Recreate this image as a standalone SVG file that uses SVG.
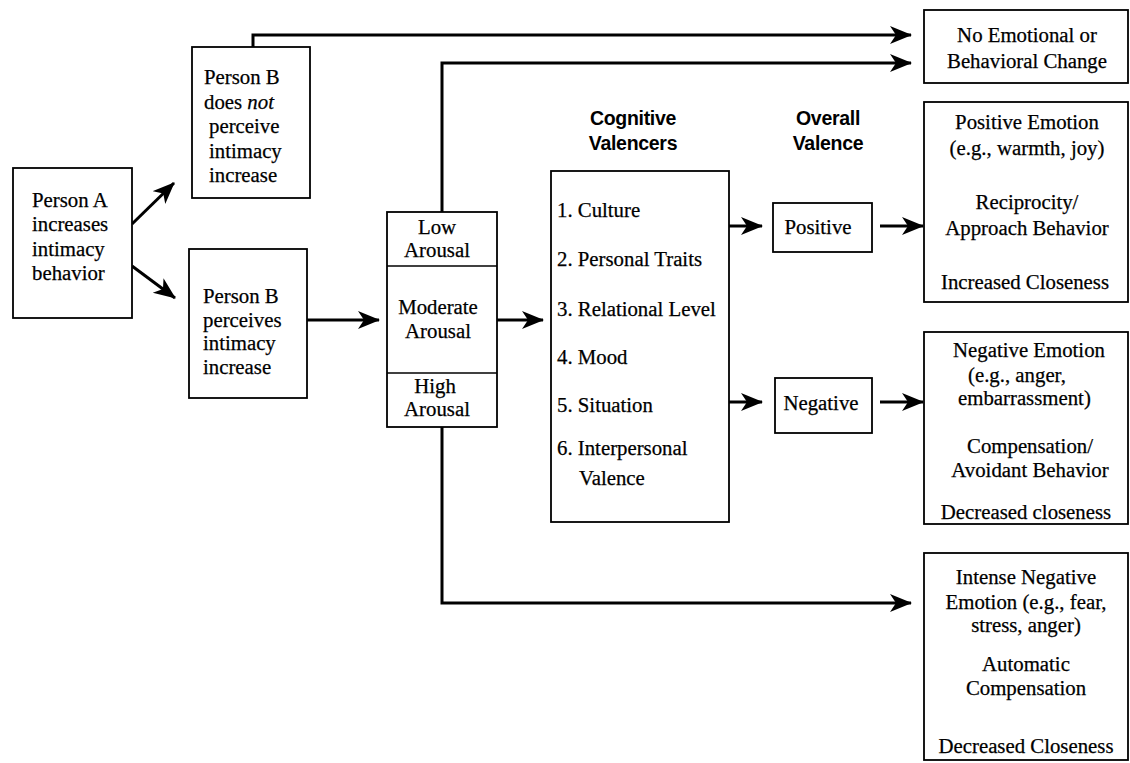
<svg xmlns="http://www.w3.org/2000/svg" width="1130" height="763" viewBox="0 0 1130 763">
  <style>
    .box { fill: #fff; stroke: #000; stroke-width: 1.8; }
    .div { stroke: #000; stroke-width: 1.5; }
    .t { font-family: "Liberation Serif", "Times New Roman", serif; font-size: 20.8px; fill: #000; stroke: #000; stroke-width: 0.25; }
    .c { text-anchor: middle; }
    .h { font-family: "Liberation Sans", Arial, sans-serif; font-size: 19.5px; font-weight: bold; fill: #000; text-anchor: middle; letter-spacing: -0.3px; }
    .wire { fill: none; stroke: #000; stroke-width: 3; stroke-linejoin: miter; }
  </style>
  <defs>
    <marker id="ah" markerUnits="userSpaceOnUse" markerWidth="24" markerHeight="20" refX="21" refY="9" orient="auto">
      <path d="M0,0 L22,9 L0,18 L6,9 z" fill="#000"/>
    </marker>
  </defs>
  <rect width="1130" height="763" fill="#fff"/>

  <!-- connectors -->
  <g id="connectors">
    <line class="wire" x1="132" y1="224" x2="174" y2="183" marker-end="url(#ah)"/>
    <line class="wire" x1="132" y1="266" x2="175" y2="298" marker-end="url(#ah)"/>
    <polyline class="wire" points="253,47 253,35 911,35" marker-end="url(#ah)"/>
    <polyline class="wire" points="442,212 442,63 911,63" marker-end="url(#ah)"/>
    <line class="wire" x1="307" y1="320" x2="379" y2="320" marker-end="url(#ah)"/>
    <line class="wire" x1="497" y1="320" x2="543" y2="320" marker-end="url(#ah)"/>
    <polyline class="wire" points="442,427 442,603 911,603" marker-end="url(#ah)"/>
    <line class="wire" x1="729" y1="226" x2="762" y2="226" marker-end="url(#ah)"/>
    <line class="wire" x1="729" y1="402" x2="762" y2="402" marker-end="url(#ah)"/>
    <line class="wire" x1="880" y1="226" x2="923" y2="226" marker-end="url(#ah)"/>
    <line class="wire" x1="880" y1="402" x2="923" y2="402" marker-end="url(#ah)"/>
  </g>

  <!-- Person A -->
  <g id="person-a">
    <rect class="box" x="13" y="168" width="119" height="150"/>
    <text class="t" x="32" y="207">Person A</text>
    <text class="t" x="32" y="231">increases</text>
    <text class="t" x="32" y="256">intimacy</text>
    <text class="t" x="32" y="280">behavior</text>
  </g>

  <!-- Person B does not perceive -->
  <g id="person-b-not">
    <rect class="box" x="192" y="47" width="118" height="151"/>
    <text class="t" x="204" y="84">Person B</text>
    <text class="t" x="204" y="109">does <tspan font-style="italic">not</tspan></text>
    <text class="t" x="209" y="133">perceive</text>
    <text class="t" x="209" y="158">intimacy</text>
    <text class="t" x="209" y="182">increase</text>
  </g>

  <!-- Person B perceives -->
  <g id="person-b-perceives">
    <rect class="box" x="189" y="249" width="118" height="149"/>
    <text class="t" x="203" y="303">Person B</text>
    <text class="t" x="203" y="327">perceives</text>
    <text class="t" x="203" y="350">intimacy</text>
    <text class="t" x="203" y="374">increase</text>
  </g>

  <!-- Arousal levels -->
  <g id="arousal">
    <rect class="box" x="387" y="212" width="110" height="215"/>
    <line class="div" x1="387" y1="266" x2="497" y2="266"/>
    <line class="div" x1="387" y1="373" x2="497" y2="373"/>
    <text class="t c" x="437" y="234">Low</text>
    <text class="t c" x="437" y="257">Arousal</text>
    <text class="t c" x="438" y="314">Moderate</text>
    <text class="t c" x="438" y="338">Arousal</text>
    <text class="t c" x="435" y="393">High</text>
    <text class="t c" x="437" y="416">Arousal</text>
  </g>

  <!-- Cognitive valencers -->
  <g id="cognitive-valencers">
    <text class="h" x="633" y="125">Cognitive</text>
    <text class="h" x="633" y="150">Valencers</text>
    <rect class="box" x="551" y="171" width="178" height="351"/>
    <text class="t" x="557" y="217">1. Culture</text>
    <text class="t" x="557" y="266">2. Personal Traits</text>
    <text class="t" x="557" y="316">3. Relational Level</text>
    <text class="t" x="557" y="364">4. Mood</text>
    <text class="t" x="557" y="412">5. Situation</text>
    <text class="t" x="557" y="455">6. Interpersonal</text>
    <text class="t" x="579" y="485">Valence</text>
  </g>

  <!-- Overall valence -->
  <g id="overall-valence">
    <text class="h" x="828" y="125">Overall</text>
    <text class="h" x="828" y="150">Valence</text>
  </g>
  <g id="positive">
    <rect class="box" x="773" y="203" width="99" height="49"/>
    <text class="t c" x="818" y="234">Positive</text>
  </g>
  <g id="negative">
    <rect class="box" x="775" y="378" width="97" height="55"/>
    <text class="t c" x="821" y="410">Negative</text>
  </g>

  <!-- Outcomes -->
  <g id="no-change">
    <rect class="box" x="924" y="10" width="204" height="73"/>
    <text class="t c" x="1027" y="42">No Emotional or</text>
    <text class="t c" x="1027" y="68">Behavioral Change</text>
  </g>
  <g id="positive-outcome">
    <rect class="box" x="924" y="102" width="204" height="200"/>
    <text class="t c" x="1027" y="129">Positive Emotion</text>
    <text class="t c" x="1027" y="155">(e.g., warmth, joy)</text>
    <text class="t c" x="1027" y="209">Reciprocity/</text>
    <text class="t c" x="1027" y="235">Approach Behavior</text>
    <text class="t c" x="1025" y="289">Increased Closeness</text>
  </g>
  <g id="negative-outcome">
    <rect class="box" x="924" y="332" width="204" height="192"/>
    <text class="t c" x="1029" y="357">Negative Emotion</text>
    <text class="t" x="968" y="382">(e.g., anger,</text>
    <text class="t" x="958" y="405">embarrassment)</text>
    <text class="t c" x="1030" y="453">Compensation/</text>
    <text class="t c" x="1030" y="477">Avoidant Behavior</text>
    <text class="t c" x="1026" y="519">Decreased closeness</text>
  </g>
  <g id="intense-outcome">
    <rect class="box" x="924" y="553" width="204" height="207"/>
    <text class="t c" x="1026" y="584">Intense Negative</text>
    <text class="t c" x="1026" y="609">Emotion (e.g., fear,</text>
    <text class="t c" x="1026" y="632">stress, anger)</text>
    <text class="t c" x="1026" y="671">Automatic</text>
    <text class="t c" x="1026" y="695">Compensation</text>
    <text class="t c" x="1026" y="753">Decreased Closeness</text>
  </g>
</svg>
